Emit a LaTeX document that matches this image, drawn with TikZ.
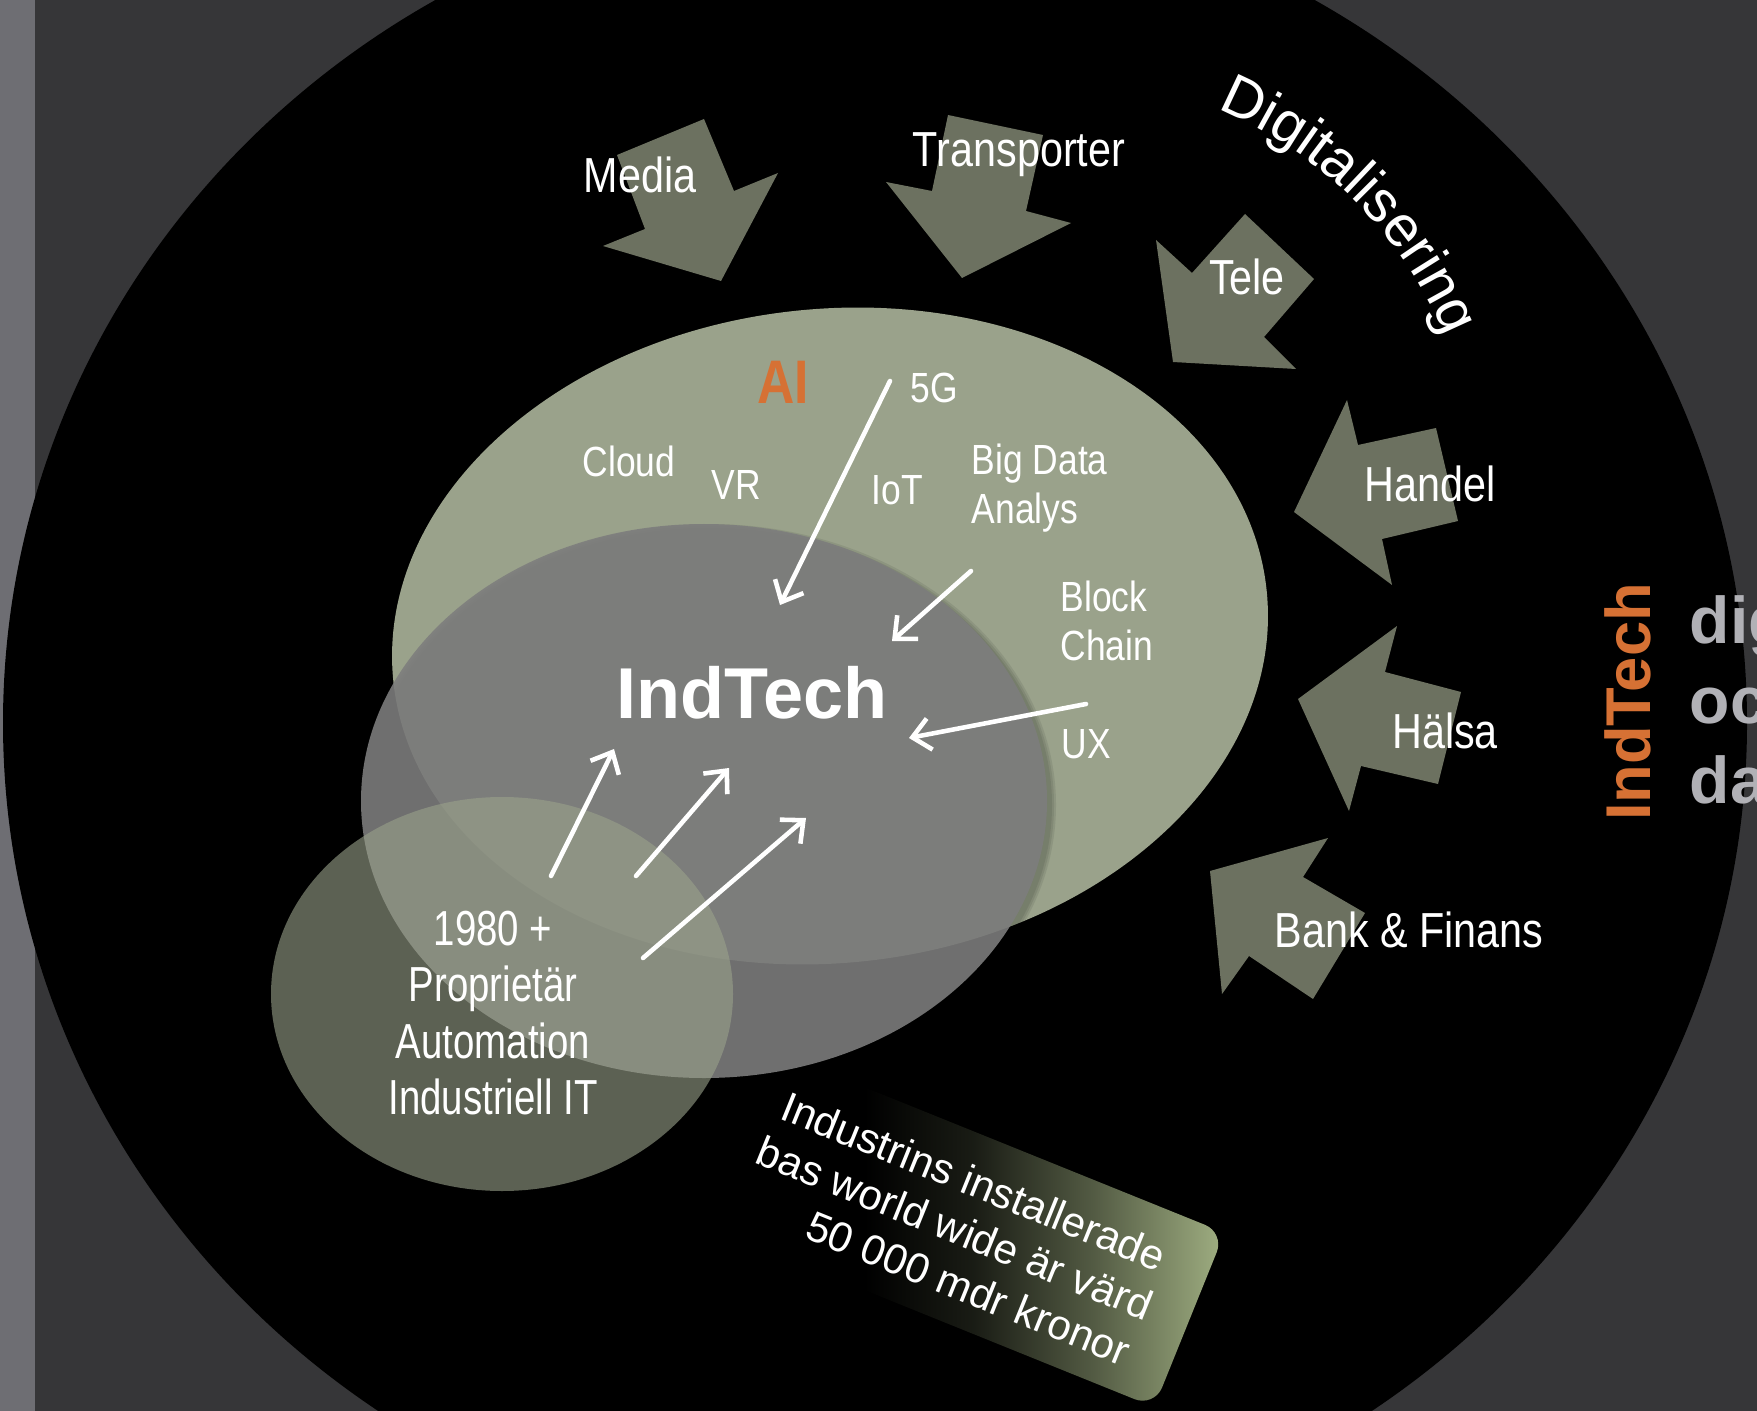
\documentclass[tikz,border=0pt]{standalone}
\usepackage{fontspec}
\setmainfont{Liberation Sans}
\newfontfamily\narrowfont[FakeStretch=0.84]{Liberation Sans}
\newfontfamily\condfont[FakeStretch=0.78]{Liberation Sans}
\usetikzlibrary{arrows.meta,decorations.text}

\definecolor{bgdark}{RGB}{54,54,56}
\definecolor{stripgray}{RGB}{110,110,115}
\definecolor{sage}{RGB}{154,162,139}
\definecolor{olive}{RGB}{108,113,96}
\definecolor{coregray}{RGB}{125,125,125}
\definecolor{rust}{RGB}{214,113,52}
\definecolor{pale}{RGB}{177,177,182}
\definecolor{boxgreen}{RGB}{160,175,130}
\pgfdeclarehorizontalshading{tagfade}{100bp}{color(0bp)=(black); color(42bp)=(black);
    color(52bp)=(black!84!boxgreen); color(63bp)=(black!48!boxgreen); color(75bp)=(boxgreen); color(100bp)=(boxgreen)}

\begin{document}
\begin{tikzpicture}[x=0.1mm, y=-0.1mm,
    blockarrow/.style={fill=olive},
    ptr/.style={white, line width=1.3pt, line cap=round, -{Straight Barb[length=5pt,width=9pt]}},
    lbl/.style={white, inner sep=0pt, anchor=base, font=\narrowfont\fontsize{14pt}{16pt}\selectfont},
    tag/.style={white, inner sep=0pt, anchor=north west, align=left, font=\narrowfont\fontsize{12pt}{14pt}\selectfont}]
    \useasboundingbox (0,0) rectangle (1757,1411);
    \clip (0,0) rectangle (1757,1411);
    % background
    \fill[bgdark] (0,0) rectangle (1757,1411);
    \fill[stripgray] (0,0) rectangle (35,1411);
    \fill[black] (875,723) ellipse [x radius=872, y radius=837];
    % value tag (under the fields)
    \begin{scope}[shift={(952,1224)}, rotate=-22]
        \shade[shading=tagfade, rounded corners=6pt] (-256,-94) rectangle (256,94);
    \end{scope}
    % incoming sectors
    \fill[blockarrow] (704,119) -- (734,191) -- (778,173) -- (721,281) -- (603,246) -- (645,229) -- (617,155) -- cycle;
    \fill[blockarrow] (948,115) -- (1043,135) -- (1026,211) -- (1071,223) -- (962,278) -- (886,182) -- (932,191) -- cycle;
    \fill[blockarrow] (1245,214) -- (1314,279) -- (1264,337) -- (1296,369) -- (1173,362) -- (1156,240) -- (1192,273) -- cycle;
    \fill[blockarrow] (1347,400) -- (1358,445) -- (1436,428) -- (1458,521) -- (1382,539) -- (1392,585) -- (1294,512) -- cycle;
    \fill[blockarrow] (1397,626) -- (1385,672) -- (1461,692) -- (1438,784) -- (1361,766) -- (1349,811) -- (1298,699) -- cycle;
    \fill[blockarrow] (1210,871) -- (1328,838) -- (1303,877) -- (1365,913) -- (1313,999) -- (1249,956) -- (1222,994) -- cycle;
    % the three fields
    \fill[sage, rotate around={6:(830,636)}] (830,636) ellipse [x radius=439, y radius=327];
    \foreach \d in {0,2,4}
        \fill[black, opacity=0.08] (709,805) ellipse [x radius=343+\d, y radius=277+\d];
    \fill[coregray, opacity=0.89] (704,801) ellipse [x radius=343, y radius=277];
    \fill[sage, opacity=0.6] (502,994) ellipse [x radius=231, y radius=197];

    \node[lbl] (media) at (640,193) {Media};
    \node[lbl] (transp) at (1019,167) {Transporter};
    \node[lbl] (tele) at (1247,295) {Tele};
    \node[lbl] (handel) at (1430,502) {Handel};
    \node[lbl] (halsa) at (1445,748) {Hälsa};
    \node[lbl] (bank) at (1409,947) {Bank \& Finans};

    \node[rust, inner sep=0pt, font=\narrowfont\bfseries\fontsize{17.5pt}{20pt}\selectfont] (ai) at (783,382) {AI};
    \node[tag] (fiveg) at (910,372) {5G};
    \node[tag] (cloud) at (582,445) {Cloud};
    \node[tag] (vr) at (711,470) {VR};
    \node[tag] (iot) at (871,475) {IoT};
    \node[tag] (bigdata) at (971,443) {Big Data\\Analys};
    \node[tag] (block) at (1060,580) {Block\\Chain};
    \node[tag] (ux) at (1061,729) {UX};
    \node[white, inner sep=0pt, anchor=base, font=\bfseries\fontsize{20.5pt}{24pt}\selectfont] (core) at (752,718) {IndTech};
    \node[white, inner sep=0pt, anchor=north, align=center, font=\condfont\fontsize{14pt}{16.1pt}\selectfont] (legacy) at (493,910) {1980 +\\Proprietär\\Automation\\Industriell IT};

    % pointers into the core
    \coordinate (g5s) at (890,381);   \coordinate (g5e) at (780,605);
    \coordinate (bds) at (971,571);   \coordinate (bde) at (892,641);
    \coordinate (uxs) at (1086,704);  \coordinate (uxe) at (909,738);
    \coordinate (l1s) at (551,876);   \coordinate (l1e) at (614,749);
    \coordinate (l2s) at (636,876);   \coordinate (l2e) at (729,768);
    \coordinate (l3s) at (643,958);   \coordinate (l3e) at (806,818);
    \draw[ptr] (g5s) -- (g5e);
    \draw[ptr] (bds) -- (bde);
    \draw[ptr] (uxs) -- (uxe);
    \draw[ptr] (l1s) -- (l1e);
    \draw[ptr] (l2s) -- (l2e);
    \draw[ptr] (l3s) -- (l3e);

    \node[white, rotate=-22, align=center, inner sep=0pt, font=\fontsize{12pt}{14.4pt}\selectfont] (worth) at (955,1228) {Industrins installerade\\bas world wide är värd\\\hspace*{20pt}50 000 mdr kronor};

    \node[rust, rotate=90, anchor=base, inner sep=0pt, font=\bfseries\fontsize{18pt}{20pt}\selectfont] (brand) at (1650,702) {IndTech};
    \node[pale, anchor=north west, align=left, inner sep=0pt, font=\bfseries\fontsize{18.8pt}{22.8pt}\selectfont] (tagline) at (1689,595) {dig\\oc\\da};

    \path[decorate, decoration={text along path, text align=center,
        text={|\fontsize{16.5pt}{20pt}\selectfont\color{white}|Digitalisering}}]
        (1057,497) ++(-80:420) arc[start angle=-80, end angle=-10, radius=420];
\end{tikzpicture}
\end{document}
